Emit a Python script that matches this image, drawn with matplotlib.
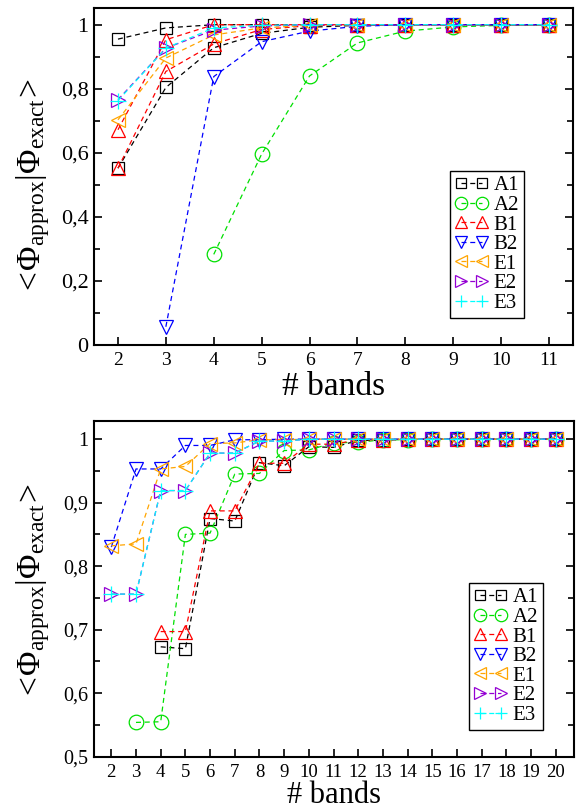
import numpy as np
import matplotlib
matplotlib.use("Agg")
import matplotlib.pyplot as plt
from matplotlib.ticker import MultipleLocator, FuncFormatter

plt.rcParams['font.family'] = ['Liberation Serif', 'DejaVu Serif']
plt.rcParams['mathtext.fontset'] = 'custom'
plt.rcParams['mathtext.rm'] = 'Liberation Serif'
plt.rcParams['mathtext.it'] = 'Liberation Serif:italic'

# ---- data: top panel (bands 2..11) ----
top_x = [2, 3, 4, 5, 6, 7, 8, 9, 10, 11]
top_a1 = [0.955, 0.990, 1.000, 1.000, 1.000, 1.000, 1.000, 1.000, 1.000, 1.000]
top_a1_b = [0.552, 0.804, 0.928, 0.973, 0.992, 0.998, 1.000, 1.000, 1.000, 1.000]
top_a2_x = [4, 5, 6, 7, 8, 9, 10, 11]
top_a2 = [0.283, 0.596, 0.840, 0.943, 0.980, 0.993, 0.998, 1.000]
top_b1 = [0.672, 0.953, 1.000, 1.000, 1.000, 1.000, 1.000, 1.000, 1.000, 1.000]
top_b1_b = [0.552, 0.854, 0.940, 0.985, 0.997, 1.000, 1.000, 1.000, 1.000, 1.000]
top_b2_x = [3, 4, 5, 6, 7, 8, 9, 10, 11]
top_b2 = [0.057, 0.838, 0.947, 0.980, 0.995, 1.000, 1.000, 1.000, 1.000]
top_e1 = [0.703, 0.896, 0.968, 0.990, 0.998, 1.000, 1.000, 1.000, 1.000, 1.000]
top_e2 = [0.766, 0.927, 0.983, 0.996, 1.000, 1.000, 1.000, 1.000, 1.000, 1.000]
top_e3 = [0.763, 0.927, 0.990, 0.998, 1.000, 1.000, 1.000, 1.000, 1.000, 1.000]

# ---- data: bottom panel (bands 2..20) ----
bot_a1_x = list(range(4, 21))
bot_a1 = [0.673, 0.670, 0.875, 0.871, 0.963, 0.958, 0.988, 0.987, 0.998, 0.998,
          1.000, 1.000, 1.000, 1.000, 1.000, 1.000, 1.000]
bot_a2_x = list(range(3, 21))
bot_a2 = [0.554, 0.555, 0.850, 0.852, 0.945, 0.946, 0.982, 0.983, 0.994, 0.995,
          0.999, 0.999, 1.000, 1.000, 1.000, 1.000, 1.000, 1.000]
bot_b1_x = list(range(4, 21))
bot_b1 = [0.697, 0.697, 0.887, 0.887, 0.962, 0.962, 0.992, 0.992, 0.999, 0.999,
          1.000, 1.000, 1.000, 1.000, 1.000, 1.000, 1.000]
bot_x = list(range(2, 21))
bot_b2 = [0.830, 0.953, 0.953, 0.990, 0.990, 0.999, 0.999, 1.000, 1.000, 1.000,
          1.000, 1.000, 1.000, 1.000, 1.000, 1.000, 1.000, 1.000, 1.000]
bot_e1 = [0.832, 0.835, 0.953, 0.957, 0.993, 0.994, 0.999, 0.999, 1.000, 1.000,
          1.000, 1.000, 1.000, 1.000, 1.000, 1.000, 1.000, 1.000, 1.000]
bot_e2 = [0.756, 0.756, 0.919, 0.919, 0.978, 0.978, 0.997, 0.997, 1.000, 1.000,
          1.000, 1.000, 1.000, 1.000, 1.000, 1.000, 1.000, 1.000, 1.000]
bot_e3 = [0.756, 0.756, 0.919, 0.919, 0.978, 0.978, 0.997, 0.997, 1.000, 1.000,
          1.000, 1.000, 1.000, 1.000, 1.000, 1.000, 1.000, 1.000, 1.000]

# style per series: (marker, color, markersize)
styles = {
    'A1': ('s', 'black', 8),
    'A2': ('o', '#00e000', 10.5),
    'B1': ('^', 'red', 10.5),
    'B2': ('v', 'blue', 10.5),
    'E1': ('<', 'orange', 10.5),
    'E2': ('>', '#9400d3', 10.5),
    'E3': ('+', 'cyan', 11),
}


def draw(ax, x, y, name, label=True):
    m, c, ms = styles[name]
    ax.plot(x, y, linestyle=(0, (4, 3)), lw=0.9, color=c, marker=m, ms=ms,
            mfc='none', mec=c, mew=0.9, label=name if label else None)


comma = FuncFormatter(lambda v, p: ('%g' % round(v, 3)).replace('.', ','))

ylabel = r'$<\!\Phi_{\mathrm{approx}}|\Phi_{\mathrm{exact}}\!>$'

fig = plt.figure(figsize=(5.84, 8.05), dpi=100)
ax1 = fig.add_axes([0.161, 0.5714, 0.820, 0.4186])
ax2 = fig.add_axes([0.161, 0.0600, 0.822, 0.4174])

# top
draw(ax1, top_x, top_a1, 'A1')
draw(ax1, top_x, top_a1_b, 'A1', label=False)
draw(ax1, top_a2_x, top_a2, 'A2')
draw(ax1, top_x, top_b1, 'B1')
draw(ax1, top_x, top_b1_b, 'B1', label=False)
draw(ax1, top_b2_x, top_b2, 'B2')
draw(ax1, top_x, top_e1, 'E1')
draw(ax1, top_x, top_e2, 'E2')
draw(ax1, top_x, top_e3, 'E3')
ax1.set_xlim(1.5, 11.5)
ax1.set_ylim(0, 1.052)
ax1.set_xticks(top_x)
ax1.yaxis.set_major_locator(MultipleLocator(0.2))
ax1.yaxis.set_minor_locator(MultipleLocator(0.1))

# bottom
draw(ax2, bot_a1_x, bot_a1, 'A1')
draw(ax2, bot_a2_x, bot_a2, 'A2')
draw(ax2, bot_b1_x, bot_b1, 'B1')
draw(ax2, bot_x, bot_b2, 'B2')
draw(ax2, bot_x, bot_e1, 'E1')
draw(ax2, bot_x, bot_e2, 'E2')
draw(ax2, bot_x, bot_e3, 'E3')
ax2.set_xlim(1.3, 20.74)
ax2.set_ylim(0.5, 1.029)
ax2.set_xticks(bot_x)
ax2.yaxis.set_major_locator(MultipleLocator(0.1))
ax2.yaxis.set_minor_locator(MultipleLocator(0.05))

for ax, yfs, xfs, ly, lx in [(ax1, 16, 14, 0.47, 0.080), (ax2, 14.5, 13.5, 0.49, 0.079)]:
    ax.yaxis.set_major_formatter(comma)
    for s in ax.spines.values():
        s.set_linewidth(1.5)
    ax.tick_params(axis='both', which='both', direction='in', width=1.2,
                   right=True, top=False)
    ax.tick_params(which='major', length=6)
    ax.tick_params(which='minor', length=4)
    ax.tick_params(axis='x', labelsize=xfs, pad=5)
    ax.tick_params(axis='y', labelsize=yfs, pad=4)
    ax.set_xlabel('# bands', fontsize=24)
    ax.set_ylabel(ylabel, fontsize=24)
    ax.yaxis.set_label_coords(-0.088, ly)
    leg = ax.legend(loc='lower left', bbox_to_anchor=(0.743 if ax is ax1 else 0.781, lx),
                    borderaxespad=0, numpoints=2, fontsize=15, handlelength=1.6,
                    handletextpad=0.25, labelspacing=0.0, borderpad=0.25,
                    markerscale=0.85, fancybox=False, framealpha=1,
                    edgecolor='black')
    leg.get_frame().set_linewidth(1.0)

ax1.xaxis.set_label_coords(0.5, -0.08)
ax2.xaxis.label.set_fontsize(22)
ax2.xaxis.set_label_coords(0.5, -0.071)

fig.savefig('out.png', dpi=100)
